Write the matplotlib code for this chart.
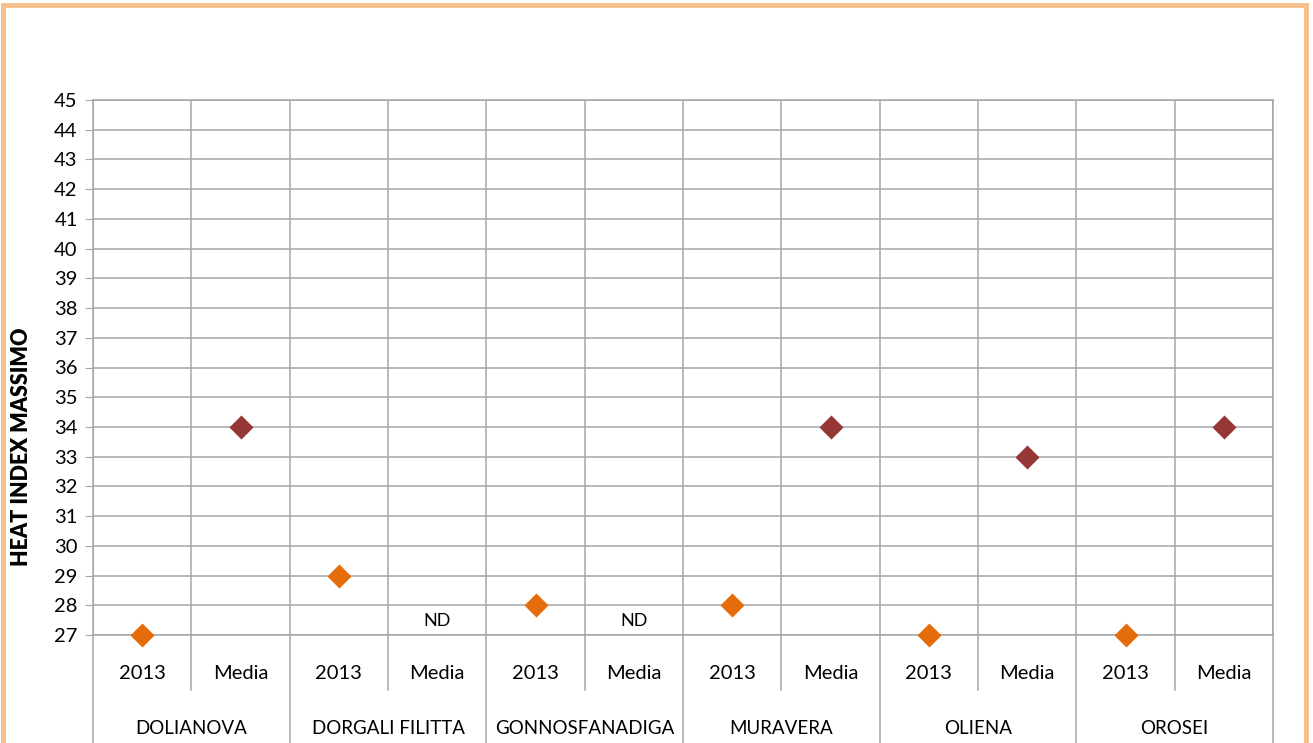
import numpy as np
import matplotlib.pyplot as plt
from matplotlib.patches import Rectangle

# stations and the two values shown for each one (None = ND)
stations = ["DOLIANOVA", "DORGALI FILITTA", "GONNOSFANADIGA", "MURAVERA", "OLIENA", "OROSEI"]
sub_labels = ["2013", "Media"]
values_2013 = [27, 29, 28, 28, 27, 27]
values_media = [34, None, None, 34, 33, 34]
y_ticks = list(range(27, 46))

plt.rcParams['font.family'] = ['Lato', 'DejaVu Sans']

grid_col = "#A6A6A6"
col_2013 = "#E46C0A"
col_media = "#953735"

fig = plt.figure(figsize=(13.13, 7.43), dpi=100)
ax = fig.add_axes([93 / 1313, 1 - 635 / 743, (1273 - 93) / 1313, 535 / 743])

n = len(stations) * 2
ax.set_xlim(0, n)
ax.set_ylim(27, 45)
ax.set_yticks(y_ticks)
ax.tick_params(axis='y', length=6, color=grid_col, labelsize=14.5, pad=5)
ax.tick_params(axis='x', length=0, labelbottom=False)
ax.set_xticks([])
for s in ax.spines.values():
    s.set_color(grid_col)
    s.set_linewidth(1.1)

# grid
for y in y_ticks:
    ax.axhline(y, color=grid_col, lw=1.1, zorder=1)
for x in range(n + 1):
    ax.axvline(x, color=grid_col, lw=1.1, zorder=1)

# points
x_2013 = np.arange(len(stations)) * 2 + 0.5
x_media = np.arange(len(stations)) * 2 + 1.5
ax.scatter(x_2013, values_2013, marker='D', s=150, color=col_2013, zorder=3, clip_on=False, linewidths=0)
for xm, v in zip(x_media, values_media):
    if v is None:
        ax.text(xm, 27.47, "ND", ha='center', va='center', fontsize=13)
    else:
        ax.scatter([xm], [v], marker='D', s=150, color=col_media, zorder=3, clip_on=False, linewidths=0)

# two-level category axis
tr = ax.get_xaxis_transform()
for i, st in enumerate(stations):
    for j, lab in enumerate(sub_labels):
        ax.text(i * 2 + j + 0.5, -0.0725, lab, transform=tr, ha='center', va='center', fontsize=14.5)
    ax.text(i * 2 + 1, -0.1745, st, transform=tr, ha='center', va='center', fontsize=13.5)
    ax.plot([i * 2 + 1, i * 2 + 1], [0, -0.1028], transform=tr, color=grid_col, lw=1.1, clip_on=False)
for k in range(len(stations) + 1):
    ax.plot([k * 2, k * 2], [0, -0.25], transform=tr, color=grid_col, lw=1.1, clip_on=False)

fig.text(22 / 1313, 1 - 447 / 743, "HEAT INDEX MASSIMO", rotation=90, ha='center', va='center',
         fontsize=15.5, fontweight='heavy')

# orange frame around the chart
fig.patches.append(Rectangle((3 / 1313, -0.05), 1303 / 1313, 1.05 - 5 / 743, transform=fig.transFigure,
                             fill=False, edgecolor="#F9BE8E", lw=3.5, clip_on=False))

fig.savefig("out.png", dpi=100)
